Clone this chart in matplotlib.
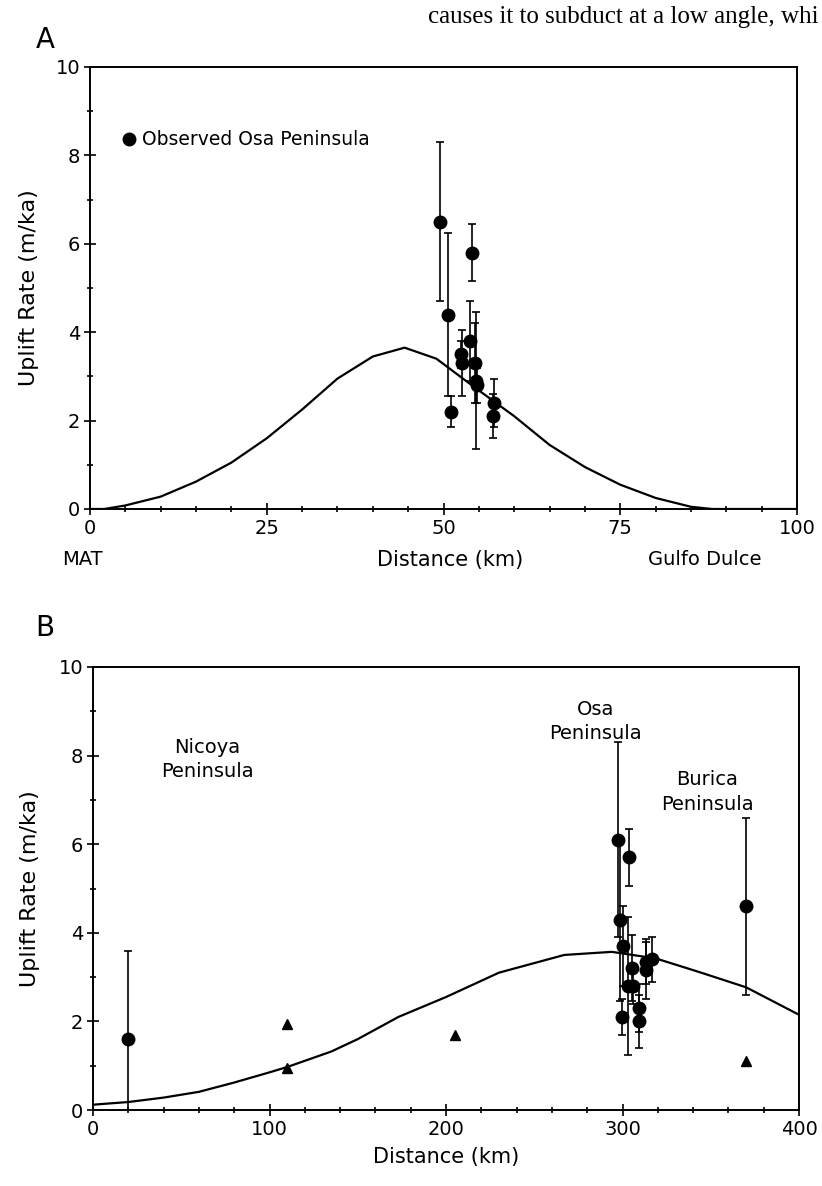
import matplotlib
matplotlib.use('Agg')
import matplotlib.pyplot as plt
from matplotlib.lines import Line2D
from matplotlib.ticker import MultipleLocator

OUT_PATH = "out.png"

# --- Panel A: profile MAT -> Gulfo Dulce ---
a_model_x = [0, 2, 5, 10, 15, 20, 25, 30, 35, 40, 44.5, 49, 54, 60, 65, 70, 75, 80, 85, 88, 100]
a_model_y = [0, 0, 0.08, 0.28, 0.62, 1.05, 1.6, 2.25, 2.95, 3.45, 3.65, 3.4, 2.8, 2.1, 1.45, 0.95, 0.55, 0.25, 0.05, 0, 0]

a_obs_x = [49.5, 50.7, 54.0, 51.1, 53.7, 52.5, 52.6, 54.4, 54.6, 54.7, 57.2, 57.0]
a_obs_y = [6.5, 4.4, 5.8, 2.2, 3.8, 3.5, 3.3, 3.3, 2.9, 2.8, 2.4, 2.1]
a_obs_err = [1.8, 1.85, 0.65, 0.35, 0.9, 0.3, 0.75, 0.9, 1.55, 0.4, 0.55, 0.5]

# --- Panel B: Nicoya -> Osa -> Burica ---
b_model_x = [0, 20, 40, 60, 80, 100, 110, 135, 150, 173, 200, 230, 267, 294, 319, 343, 370, 400]
b_model_y = [0.12, 0.18, 0.28, 0.41, 0.62, 0.85, 0.97, 1.32, 1.6, 2.1, 2.55, 3.1, 3.5, 3.57, 3.42, 3.12, 2.77, 2.15]

b_obs_x = [20, 297.6, 303.9, 298.6, 300.1, 305.6, 302.9, 306.1, 313.1, 313.1, 316.9, 309.5, 309.5, 299.5, 370]
b_obs_y = [1.6, 6.1, 5.7, 4.3, 3.7, 3.2, 2.8, 2.8, 3.35, 3.15, 3.4, 2.3, 2.0, 2.1, 4.6]
b_obs_err = [2.0, 2.2, 0.65, 1.85, 0.9, 0.75, 1.55, 0.4, 0.5, 0.65, 0.5, 0.55, 0.6, 0.4, 2.0]

b_tri_x = [110, 110, 205, 370]
b_tri_y = [1.95, 0.95, 1.7, 1.1]

plt.rcParams['font.family'] = 'DejaVu Sans'

W, H = 822, 1186
fig = plt.figure(figsize=(W / 100, H / 100), dpi=100)


def px_axes(left, top, right, bottom):
    return fig.add_axes([left / W, 1 - bottom / H, (right - left) / W, (bottom - top) / H])


def style_axes(ax, xmax, xmajor, xminor):
    ax.set_xlim(0, xmax)
    ax.set_ylim(0, 10)
    ax.xaxis.set_major_locator(MultipleLocator(xmajor))
    ax.xaxis.set_minor_locator(MultipleLocator(xminor))
    ax.yaxis.set_major_locator(MultipleLocator(2))
    ax.yaxis.set_minor_locator(MultipleLocator(1))
    ax.tick_params(which='both', direction='inout', top=False, right=False,
                   width=1.2, labelsize=14, pad=3)
    ax.tick_params(which='major', length=8)
    ax.tick_params(which='minor', length=5)
    for s in ax.spines.values():
        s.set_linewidth(1.4)
    ax.set_ylabel('Uplift Rate (m/ka)', fontsize=16)


ebar = dict(fmt='o', color='black', ms=9, capsize=3, elinewidth=1.2, capthick=1.2)
label_kw = dict(ha='center', va='center', fontsize=14, linespacing=1.35)

# Panel A
axA = px_axes(90, 67, 797, 509)
style_axes(axA, 100, 25, 5)
axA.plot(a_model_x, a_model_y, color='black', lw=1.6)
axA.errorbar(a_obs_x, a_obs_y, yerr=a_obs_err, **ebar)
axA.yaxis.set_label_coords(-0.072, 0.5)

handle = Line2D([], [], marker='o', color='black', ls='none', ms=9)
axA.legend([handle], ['Observed Osa Peninsula'], loc='center left',
           bbox_to_anchor=(0.045, 0.835), frameon=False, fontsize=13.5,
           handlelength=0.8, handletextpad=0.3, borderpad=0, borderaxespad=0)

xt = axA.get_xaxis_transform()
axA.text(-1.0, -0.115, 'MAT', transform=xt, ha='center', va='center', fontsize=14)
axA.text(51, -0.115, 'Distance (km)', transform=xt, ha='center', va='center', fontsize=15)
axA.text(87, -0.115, 'Gulfo Dulce', transform=xt, ha='center', va='center', fontsize=14)

# Panel B
axB = px_axes(93, 667, 799, 1110)
style_axes(axB, 400, 100, 20)
axB.plot(b_model_x, b_model_y, color='black', lw=1.6)
axB.errorbar(b_obs_x, b_obs_y, yerr=b_obs_err, **ebar)
axB.plot(b_tri_x, b_tri_y, '^', color='black', ms=7)
axB.yaxis.set_label_coords(-0.075, 0.5)
axB.set_xlabel('Distance (km)', fontsize=15, labelpad=6)

axB.text(64.6, 7.92, 'Nicoya\nPeninsula', **label_kw)
axB.text(284.5, 8.77, 'Osa\nPeninsula', **label_kw)
axB.text(348, 7.18, 'Burica\nPeninsula', **label_kw)

# panel letters and the line of body text above (truncated as in the scan)
fig.text(45 / W, 1 - 40 / H, 'A', ha='center', va='center', fontsize=20)
fig.text(45 / W, 1 - 628 / H, 'B', ha='center', va='center', fontsize=20)
fig.text(819 / W, 1 - 17 / H, 'causes it to subduct at a low angle, whi',
         ha='right', va='center', fontsize=18, family='Liberation Serif')

fig.savefig(OUT_PATH, dpi=100)
